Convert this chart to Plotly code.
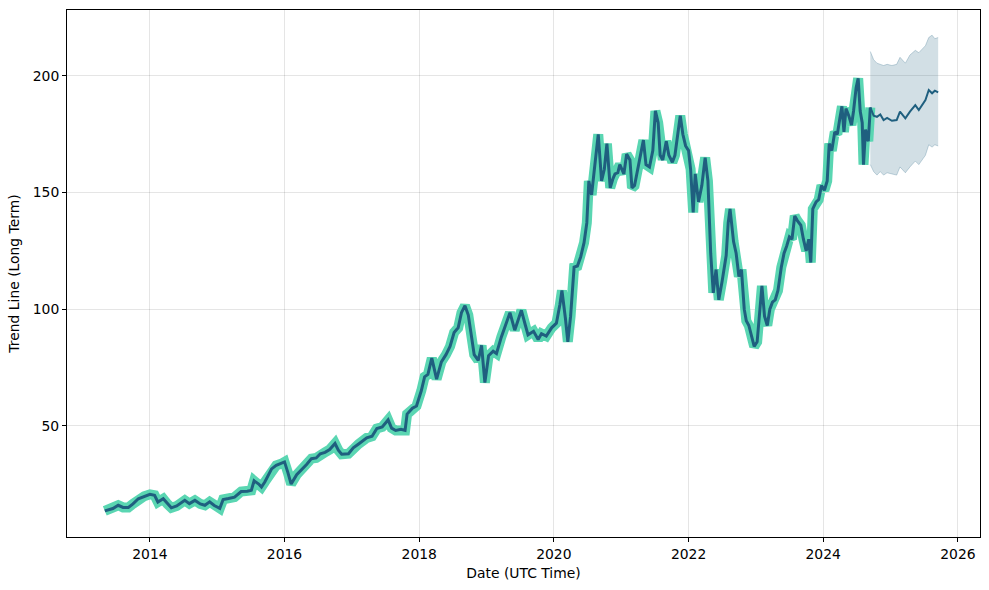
import plotly.graph_objects as go

# ---- historical trend (date, value) ----
hist_dates = [
    "2013-05-01","2013-06-14","2013-07-13","2013-08-08","2013-09-06","2013-10-01","2013-10-30","2013-12-01",
    "2014-01-01","2014-01-26","2014-02-13","2014-03-14","2014-04-05","2014-04-27","2014-05-26","2014-06-21",
    "2014-07-09","2014-08-03","2014-09-02","2014-10-01","2014-10-26","2014-11-21","2014-12-16",
    "2015-01-15","2015-02-02","2015-03-03","2015-04-05","2015-05-11","2015-06-13","2015-07-05","2015-07-20",
    "2015-08-14","2015-08-29","2015-09-16","2015-10-23","2015-11-17","2015-12-17",
    "2016-01-01","2016-01-19","2016-02-06","2016-03-07","2016-04-08","2016-05-01","2016-05-26","2016-06-21",
    "2016-07-13","2016-08-08","2016-09-02","2016-10-01","2016-10-19","2016-11-06","2016-12-13",
    "2017-01-08","2017-02-06","2017-03-22","2017-04-20","2017-05-16","2017-06-14","2017-07-16","2017-08-04",
    "2017-08-26","2017-09-24","2017-10-16","2017-10-27","2017-11-25","2017-12-17",
    "2018-01-12","2018-01-30","2018-02-17","2018-03-10","2018-04-05","2018-05-01","2018-05-26","2018-06-17",
    "2018-07-09","2018-07-31","2018-08-18","2018-09-06","2018-09-24","2018-10-12","2018-10-26","2018-11-17",
    "2018-12-05","2018-12-23",
    "2019-01-12","2019-02-06","2019-02-24","2019-03-22","2019-04-20","2019-05-08","2019-06-03","2019-06-21",
    "2019-07-09","2019-07-31","2019-08-14","2019-09-13","2019-10-08","2019-10-26","2019-11-21","2019-12-20",
    "2020-01-15","2020-02-03","2020-02-14","2020-03-04","2020-03-17","2020-04-01","2020-04-20","2020-05-08",
    "2020-05-26","2020-06-13","2020-06-28","2020-07-09","2020-07-24","2020-08-08","2020-08-29","2020-09-16",
    "2020-10-01","2020-10-15","2020-11-02","2020-11-17","2020-11-28","2020-12-13","2020-12-24",
    "2021-01-15","2021-01-30","2021-02-17","2021-02-28","2021-03-14","2021-04-01","2021-04-20","2021-05-01",
    "2021-05-15","2021-06-03","2021-06-21","2021-07-05","2021-07-20","2021-07-31","2021-08-14","2021-09-02",
    "2021-09-16","2021-10-05","2021-10-19","2021-11-06","2021-11-17","2021-12-01","2021-12-16",
    "2022-01-01","2022-01-12","2022-01-26","2022-02-06","2022-02-24","2022-03-14","2022-04-01","2022-04-16",
    "2022-05-01","2022-05-15","2022-05-30","2022-06-14","2022-07-02","2022-07-24","2022-08-04","2022-08-14",
    "2022-09-02","2022-09-16","2022-10-01","2022-10-15","2022-10-30","2022-11-10","2022-11-24","2022-12-08",
    "2022-12-23",
    "2023-01-08","2023-01-23","2023-02-03","2023-02-17","2023-03-04","2023-03-18","2023-04-01","2023-04-16",
    "2023-05-01","2023-05-19","2023-06-03","2023-06-17","2023-07-02","2023-07-16","2023-07-31","2023-08-14",
    "2023-09-02","2023-09-16","2023-10-01","2023-10-15","2023-10-26","2023-11-06","2023-11-24","2023-12-08",
    "2023-12-23",
    "2024-01-08","2024-01-23","2024-02-03","2024-02-17","2024-03-04","2024-03-18","2024-04-01","2024-04-12",
    "2024-04-23","2024-05-04","2024-05-19","2024-06-03","2024-06-14","2024-06-28","2024-07-09","2024-07-20",
    "2024-07-31","2024-08-07","2024-08-18","2024-09-02","2024-09-13",
]
hist_values = [
    13.5,14.5,15.9,15.0,15.0,16.5,18.7,19.8,
    20.6,20.2,17.3,18.7,16.5,14.8,15.6,16.8,
    18.0,16.6,18.0,16.5,15.9,17.4,15.8,
    14.6,18.4,18.8,19.4,21.8,21.9,22.3,26.4,
    25.0,23.7,25.9,31.5,33.0,33.8,
    34.5,30.0,25.0,29.0,31.5,33.5,35.9,36.2,
    38.0,38.6,39.8,42.4,39.5,37.8,38.0,
    40.5,42.2,44.8,45.5,48.8,49.5,52.5,49.0,
    48.0,48.5,48.0,55.0,57.5,58.5,
    65.0,71.0,72.0,79.0,70.0,77.4,80.5,84.0,
    90.0,92.0,98.5,101.5,97.5,88.0,80.5,78.0,
    84.5,68.5,
    80.0,82.0,81.0,88.0,95.0,98.5,91.0,95.5,
    99.5,93.0,89.0,90.5,87.0,89.5,88.5,92.0,
    94.0,102.0,108.0,96.0,86.0,97.0,118.0,118.5,
    122.5,128.5,137.0,155.0,149.0,160.0,175.0,155.0,
    160.0,171.0,152.0,156.0,158.0,158.5,162.0,
    158.0,166.5,164.0,152.0,153.0,160.0,168.0,172.5,
    162.0,161.0,168.0,185.0,180.0,166.0,164.0,172.0,
    166.0,163.0,166.0,176.0,183.0,175.0,170.0,
    168.0,160.0,141.5,158.0,146.0,153.0,165.0,155.0,
    124.0,107.0,117.0,104.0,112.0,123.0,137.0,143.0,
    129.0,124.0,114.0,117.0,100.0,95.0,93.0,89.0,
    84.0,
    86.0,98.0,110.0,97.0,93.0,100.0,103.0,104.0,
    108.0,118.0,124.0,127.0,131.0,130.0,140.0,138.0,
    136.0,130.0,125.0,130.0,120.0,143.0,146.0,147.0,
    153.0,
    151.0,155.0,171.0,168.0,176.0,175.0,182.0,187.0,
    176.0,186.0,183.0,179.0,185.0,195.0,199.0,185.0,
    180.0,162.0,177.0,172.0,186.5,
]

# ---- forecast ----
fc_dates = [
    "2024-09-13","2024-10-01","2024-10-19","2024-11-06","2024-11-24","2024-12-13",
    "2025-01-08","2025-02-03","2025-02-21","2025-03-22","2025-04-16","2025-05-15",
    "2025-06-03","2025-07-09","2025-07-27","2025-08-14","2025-08-29","2025-09-16",
]
fc_values = [186.5,183.0,182.5,183.5,181.1,182.0,180.8,181.1,184.7,181.8,184.7,187.5,
             185.4,189.7,194.0,192.6,193.7,193.0]
fc_upper = [210.5,207.0,205.5,205.0,204.5,205.0,204.5,205.0,208.0,205.5,209.0,211.0,
            210.0,213.0,216.5,217.5,216.0,216.5]
fc_lower = [162.0,159.0,157.5,159.0,157.5,158.5,158.0,157.5,161.0,158.5,161.0,163.5,
            162.0,166.0,170.5,169.5,170.5,170.0]

year_ticks = ["2014-01-01","2016-01-01","2018-01-01","2020-01-01","2022-01-01","2024-01-01","2026-01-01"]
year_labels = ["2014","2016","2018","2020","2022","2024","2026"]
y_ticks = [50, 100, 150, 200]

DARK = "#1f5f7f"
GREEN = "#5ad6b2"
BAND = "rgba(31,95,127,0.2)"

fig = go.Figure()
# forecast band
fig.add_trace(go.Scatter(x=fc_dates, y=fc_upper, mode="lines",
                         line=dict(color="rgba(31,95,127,0.25)", width=1), showlegend=False, hoverinfo="skip"))
fig.add_trace(go.Scatter(x=fc_dates, y=fc_lower, mode="lines", fill="tonexty", fillcolor=BAND,
                         line=dict(color="rgba(31,95,127,0.25)", width=1), showlegend=False, hoverinfo="skip"))
# green halo
fig.add_trace(go.Scatter(x=hist_dates, y=hist_values, mode="lines",
                         line=dict(color=GREEN, width=10), showlegend=False))
# dark trend line (history + forecast)
fig.add_trace(go.Scatter(x=hist_dates, y=hist_values, mode="lines",
                         line=dict(color=DARK, width=3), showlegend=False))
fig.add_trace(go.Scatter(x=fc_dates, y=fc_values, mode="lines",
                         line=dict(color=DARK, width=2), showlegend=False))

axis_common = dict(showline=True, linecolor="black", linewidth=1, mirror=True,
                   ticks="outside", ticklen=4, tickcolor="black",
                   showgrid=True, gridcolor="rgba(0,0,0,0.1)", gridwidth=1, zeroline=False,
                   tickfont=dict(size=13.9, color="black"))

fig.update_layout(
    width=989, height=590,
    margin=dict(l=67, r=9, t=10, b=53),
    paper_bgcolor="white", plot_bgcolor="white",
    font=dict(family="DejaVu Sans", size=13.9, color="black"),
    xaxis=dict(range=["2012-10-08", "2026-05-01"], tickvals=year_ticks, ticktext=year_labels,
               title=dict(text="Date (UTC Time)", standoff=7, font=dict(size=13.9)), **axis_common),
    yaxis=dict(range=[2.3, 228.3], tickvals=y_ticks,
               title=dict(text="Trend Line (Long Term)", standoff=9, font=dict(size=13.9)), **axis_common),
)

fig.write_html("out.html")
